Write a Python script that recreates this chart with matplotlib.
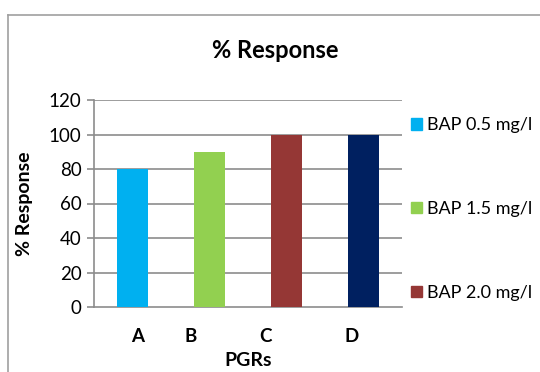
import matplotlib
matplotlib.use("Agg")
import matplotlib.pyplot as plt
from matplotlib.lines import Line2D
from matplotlib.patches import Patch

plt.rcParams["font.family"] = ["Lato", "DejaVu Sans"]

# data
categories = ["A", "B", "C", "D"]
response = [80, 90, 100, 100]
bar_colors = ["#00b0f0", "#92d050", "#953735", "#002060"]
legend_labels = ["BAP 0.5 mg/l", "BAP 1.5 mg/l", "BAP 2.0 mg/l"]
yticks = [0, 20, 40, 60, 80, 100, 120]

GRID = "#8c8c8c"

fig = plt.figure(figsize=(5.4, 3.72), dpi=100)
W, H = 540, 372

# chart frame (left and top edge visible)
fig.add_artist(Line2D([8 / W, 8 / W], [0, 1 - 15 / H], color="#a0a0a0", lw=1.2))
fig.add_artist(Line2D([8 / W, 1], [1 - 15 / H, 1 - 15 / H], color="#a0a0a0", lw=1.2))

ax = fig.add_axes([94 / W, 65 / H, 308 / W, 207 / H])
x = [i + 0.5 for i in range(len(categories))]
ax.bar(x, response, width=0.4, color=bar_colors, zorder=3)

ax.set_xlim(0, len(categories))
ax.set_ylim(0, 120)
ax.set_yticks(yticks)
ax.tick_params(axis="y", length=5, width=1.2, color=GRID, labelsize=13.5, pad=4)
for yv in yticks[1:]:
    ax.axhline(yv, color=GRID, lw=1.2, zorder=1)

# category labels sit slightly off the bar centres
label_pos = [0.56, 1.26, 2.23, 3.34]
ax.set_xticks(label_pos)
ax.set_xticklabels(categories, fontsize=13.5, fontweight="bold")
ax.tick_params(axis="x", length=0, pad=15)

for side in ("top", "right"):
    ax.spines[side].set_visible(False)
for side in ("left", "bottom"):
    ax.spines[side].set_color(GRID)
    ax.spines[side].set_linewidth(1.2)

ax.set_xlabel("PGRs", fontsize=14, fontweight="bold", labelpad=5)
ax.set_ylabel("% Response", fontsize=14, fontweight="bold", labelpad=11)
fig.text(275 / W, 1 - 51 / H, "% Response", fontsize=17, fontweight="bold",
         ha="center", va="center")

handles = [Patch(color=c) for c in bar_colors[:3]]
fig.legend(handles, legend_labels, loc="upper left",
           bbox_to_anchor=(404 / W, 1 - 110 / H), frameon=False,
           fontsize=13, handlelength=0.6, handleheight=0.6,
           handletextpad=0.3, labelspacing=3.75, borderaxespad=0)

fig.savefig("out.png", dpi=100)
